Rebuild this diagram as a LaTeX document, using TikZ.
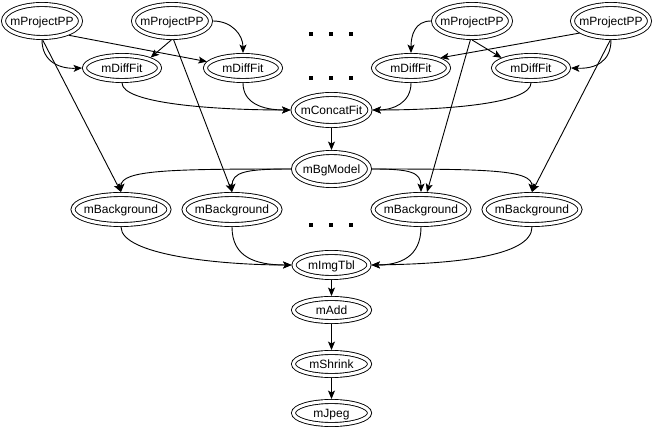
\documentclass[tikz,border=0pt]{standalone}
\usepackage{fontspec}
\setmainfont{Liberation Sans}
\usetikzlibrary{arrows.meta,shapes.geometric}
% label centred on the node without widening the ellipse
\newcommand\jtext[1]{\makebox[0pt]{#1}}
\begin{document}
\begin{tikzpicture}[x=1pt,y=1pt,
  job/.style={ellipse, draw, line width=0.9pt, double, double distance=3.1pt,
    outer sep=2.45pt, inner sep=0pt, text height=8.6pt, text depth=0pt,
    font=\fontsize{12}{14}\selectfont},
  pp/.style={job, minimum width=77pt, minimum height=33pt},
  diff/.style={job, minimum width=75pt, minimum height=25pt},
  bg/.style={job, minimum width=96pt, minimum height=30pt},
  tail/.style={job, minimum width=76pt, minimum height=23pt},
  flow/.style={line width=0.9pt, -{Stealth[length=8.5pt,width=7pt,inset=2pt]}},
  gap/.style={rectangle, fill, minimum size=3.5pt, inner sep=0pt},
]
\useasboundingbox (0,0) rectangle (653,-435);

% projection jobs
\node[pp] (p1) at (42,-21)  {\jtext{mProjectPP}};
\node[pp] (p2) at (172,-21) {\jtext{mProjectPP}};
\node[pp] (p3) at (472,-21) {\jtext{mProjectPP}};
\node[pp] (p4) at (611,-21) {\jtext{mProjectPP}};

% difference fits
\node[diff] (d1) at (122,-68) {\jtext{mDiffFit}};
\node[diff] (d2) at (243,-68) {\jtext{mDiffFit}};
\node[diff] (d3) at (411,-68) {\jtext{mDiffFit}};
\node[diff] (d4) at (531,-68) {\jtext{mDiffFit}};

% central chain
\node[job, minimum width=77pt, minimum height=31pt] (c) at (331.5,-110) {\jtext{mConcatFit}};
\node[job, minimum width=76pt, minimum height=33pt] (m) at (331.5,-169) {\jtext{mBgModel}};

% background corrections
\node[bg] (b1) at (121,-209.5) {\jtext{mBackground}};
\node[bg] (b2) at (232,-209.5) {\jtext{mBackground}};
\node[bg] (b3) at (421,-209.5) {\jtext{mBackground}};
\node[bg] (b4) at (532,-209.5) {\jtext{mBackground}};

\node[job, minimum width=75pt, minimum height=25pt] (i) at (331.5,-265) {\jtext{mImgTbl}};
\node[tail] (a) at (331.5,-310) {\jtext{mAdd}};
\node[tail] (s) at (331.5,-364) {\jtext{mShrink}};
\node[tail] (j) at (331.5,-413) {\jtext{mJpeg}};

% elided jobs
\foreach \row/\yy in {1/-34, 2/-78, 3/-225}{
  \node[gap] (g\row a) at (311,\yy) {};
  \node[gap] (g\row b) at (331,\yy) {};
  \node[gap] (g\row c) at (351,\yy) {};
}

% projections -> difference fits and backgrounds
\draw[flow] (p1.south) .. controls (42,-62) and (60,-69) .. (d1.west);
\draw[flow] (p1.-28) -- (d2.170);
\draw[flow] (p1.-88) -- (b1.north);
\draw[flow] (p2.-92) -- (d1.20);
\draw[flow] (p2.east) .. controls (232,-21) and (243,-35) .. (d2.north);
\draw[flow] (p2.-85) -- (b2.north);
\draw[flow] (p3.west) .. controls (415,-21) and (411,-35) .. (d3.north);
\draw[flow] (p3.-90) -- (d4.161);
\draw[flow] (p3.-95) -- (b3.71);
\draw[flow] (p4.201) -- (d3.19);
\draw[flow] (p4.south) .. controls (611,-62) and (595,-69) .. (d4.east);
\draw[flow] (p4.-92) -- (b4.north);

% difference fits -> concat
\draw[flow] (d1.south) .. controls (122,-103) and (210,-110) .. (c.west);
\draw[flow] (d2.south) .. controls (243,-103) and (262,-110) .. (c.west);
\draw[flow] (d3.south) .. controls (411,-103) and (393,-110) .. (c.east);
\draw[flow] (d4.south) .. controls (531,-103) and (450,-110) .. (c.east);

\draw[flow] (c) -- (m);

% model -> backgrounds
\draw[flow] (m.west) .. controls (170,-169) and (121,-170) .. (b1.north);
\draw[flow] (m.west) .. controls (245,-169) and (232,-172) .. (b2.north);
\draw[flow] (m.east) .. controls (410,-169) and (421,-172) .. (b3.north);
\draw[flow] (m.east) .. controls (490,-169) and (532,-170) .. (b4.north);

% backgrounds -> image table
\draw[flow] (b1.south) .. controls (121,-255) and (220,-265) .. (i.west);
\draw[flow] (b2.south) .. controls (232,-257) and (255,-265) .. (i.west);
\draw[flow] (b3.south) .. controls (421,-257) and (400,-265) .. (i.east);
\draw[flow] (b4.south) .. controls (532,-257) and (450,-264) .. (i.east);

\draw[flow] (i) -- (a);
\draw[flow] (a) -- (s);
\draw[flow] (s) -- (j);
\end{tikzpicture}
\end{document}
